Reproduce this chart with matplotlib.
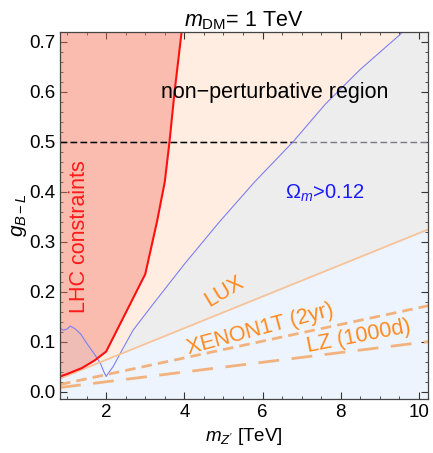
import numpy as np
import matplotlib
matplotlib.use('Agg')
import matplotlib.pyplot as plt

plt.rcParams['font.family'] = ['Liberation Sans', 'DejaVu Sans']
plt.rcParams['mathtext.fontset'] = 'custom'
plt.rcParams['mathtext.rm'] = 'Liberation Sans'
plt.rcParams['mathtext.it'] = 'Liberation Sans:italic'

# LHC bound (red)
lhc_m = [0.82, 1.0, 1.38, 1.7, 2.0, 3.0, 3.3, 3.5, 3.62, 3.75, 3.93, 4.0]
lhc_g = [0.030, 0.035, 0.047, 0.062, 0.080, 0.235, 0.340, 0.420, 0.500, 0.600, 0.720, 0.76]

# relic density line Omega h^2 = 0.12 (blue)
relic_m = [0.82, 0.9, 1.0, 1.08, 1.2, 1.35, 1.5, 1.7, 1.85, 1.95, 2.0, 2.05, 2.18, 2.4,
           2.69, 3.2, 4.0, 4.9, 5.8, 6.78, 7.6, 8.5, 9.52, 9.7]
relic_g = [0.127, 0.123, 0.125, 0.131, 0.126, 0.115, 0.097, 0.075, 0.057, 0.038, 0.030, 0.036, 0.050, 0.082,
           0.123, 0.175, 0.255, 0.340, 0.420, 0.500, 0.575, 0.645, 0.715, 0.73]

# direct detection limits (orange)
dd_m = [0.82, 10.25]
lux_g = [0.026, 0.325]
xenon_g = [0.014, 0.172]
lz_g = [0.008, 0.100]

g_pert = 0.5
xmin, xmax = 0.82, 10.22
ymin, ymax = -0.015, 0.72

fig = plt.figure(figsize=(4.33, 4.53), dpi=100)
ax = fig.add_axes([0.1386, 0.1192, 0.8487, 0.8102])
ax.set_facecolor('#EDEDED')

peach = ax.fill_between(relic_m, relic_g, 1.0, color='#FEEDE0', lw=0, zorder=1)
ax.fill_between(dd_m, -0.1, lux_g, color='#EDF4FD', lw=0, zorder=1.5)
ax.fill_between(lhc_m, lhc_g, 1.0, color='#F47A6B', alpha=0.42, lw=0, zorder=2)

# perturbativity line: gray over the Omega>0.12 region, black elsewhere
ax.plot([xmin, xmax], [g_pert, g_pert], color='#7A7A82', lw=1.0, dashes=(4.8, 2.4), zorder=3)
blk, = ax.plot([xmin, xmax], [g_pert, g_pert], color='black', lw=1.0, dashes=(4.8, 2.4), zorder=3.1)
blk.set_clip_path(peach.get_paths()[0], transform=ax.transData)

ax.plot(relic_m, relic_g, color='#7F7FF0', lw=0.8, zorder=4)
ax.plot(lhc_m, lhc_g, color='#FF1010', lw=1.5, zorder=5)
ax.plot(dd_m, lux_g, color='#F6C39A', lw=1.3, zorder=4)
ax.plot(dd_m, xenon_g, color='#F2B27E', lw=2.0, dashes=(3.8, 2.2), zorder=4)
ax.plot(dd_m, lz_g, color='#F2B27E', lw=2.0, dashes=(7.5, 4.5), zorder=4)

orange = '#FF8A1E'
ax.text(1.33, 0.31, 'LHC constraints', color='#FF1A1A', fontsize=15.5, rotation=90,
        ha='center', va='center', zorder=6)
ax.text(6.31, 0.598, 'non\u2212perturbative region', color='black', fontsize=15.5,
        ha='center', va='center', zorder=6)
ax.text(7.6, 0.397, r'$\Omega_m$>0.12', color='#1A1AFF', fontsize=14.5,
        ha='center', va='center', zorder=6)
ax.text(5.02, 0.2, 'LUX', color=orange, fontsize=15.5, rotation=31,
        ha='center', va='center', zorder=6)
ax.text(5.95, 0.124, 'XENON1T (2yr)', color=orange, fontsize=15.5, rotation=15,
        ha='center', va='center', zorder=6)
ax.text(8.47, 0.11, 'LZ (1000d)', color=orange, fontsize=15.5, rotation=11,
        ha='center', va='center', zorder=6)

ax.set_xlim(xmin, xmax)
ax.set_ylim(ymin, ymax)
ax.set_xticks([2, 4, 6, 8, 10])
ax.set_xticks(np.arange(1.0, 10.01, 0.5), minor=True)
ax.set_yticks([0.0, 0.1, 0.2, 0.3, 0.4, 0.5, 0.6, 0.7])
ax.set_yticks(np.arange(0.0, 0.7201, 0.02), minor=True)
ax.set_yticklabels(['0.0', '0.1', '0.2', '0.3', '0.4', '0.5', '0.6', '0.7'])
ax.tick_params(which='both', direction='in', top=True, right=True, colors='#333333',
               labelcolor='black', labelsize=13.5)
ax.tick_params(which='major', length=5, width=0.8)
ax.tick_params(which='minor', length=2.5, width=0.6)
for s in ax.spines.values():
    s.set_color('#444444')
    s.set_linewidth(0.9)
    s.set_zorder(10)

ax.set_title(r'$m_{\mathrm{DM}}$= 1 TeV', fontsize=15.5, pad=3)
ax.set_xlabel(r"$m_{Z'}$ [TeV]", fontsize=13.5)
ax.set_ylabel(r'$g_{B-L}$', fontsize=15, labelpad=0)

fig.savefig('out.png', dpi=100)
